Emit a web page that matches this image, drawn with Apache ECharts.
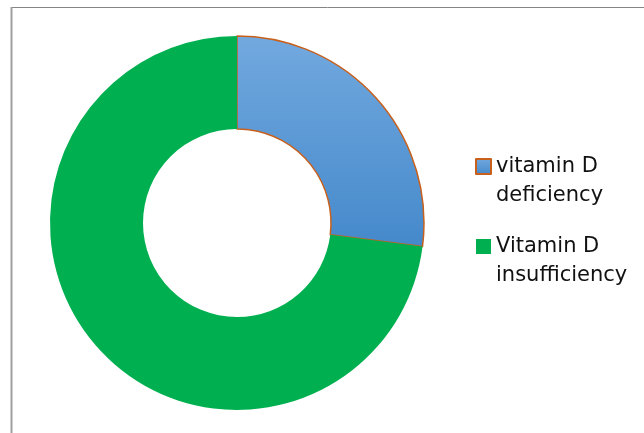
<!DOCTYPE html>
<html>
<head>
<meta charset="utf-8">
<script src="https://cdn.jsdelivr.net/npm/echarts@6/dist/echarts.min.js"></script>
<style>
  html, body { margin: 0; padding: 0; background: #fff; }
  #chart { width: 644px; height: 433px; }
</style>
</head>
<body>
<div id="chart"></div>
<script>
// Vitamin D status shares
const categories = ['vitamin D\ndeficiency', 'Vitamin D\ninsufficiency'];
const values = [27, 73];

const chart = echarts.init(document.getElementById('chart'));

const sliceStyles = [
  {
    color: {
      type: 'linear', x: 0, y: 0, x2: 0, y2: 1,
      colorStops: [
        { offset: 0, color: '#72a9df' },
        { offset: 1, color: '#4589cb' }
      ]
    },
    borderColor: '#c8601c',
    borderWidth: 1.5
  },
  { color: '#00b050', borderWidth: 0 }
];

// Legend labels are centred on their square; a leading blank line puts
// the first text line level with the square and the second one below it.
const LINE_H = 29;

chart.setOption({
  animation: false,
  backgroundColor: '#ffffff',
  graphic: [
    { type: 'line', shape: { x1: 11, y1: 7.5, x2: 644, y2: 7.5 }, style: { stroke: '#858585', lineWidth: 1 } },
    { type: 'line', shape: { x1: 11.5, y1: 7, x2: 11.5, y2: 433 }, style: { stroke: '#a0a0a0', lineWidth: 2 } }
  ],
  legend: {
    orient: 'vertical',
    left: 470,
    top: 118,
    itemWidth: 15,
    itemHeight: 15,
    itemGap: -7,
    icon: 'rect',
    formatter: name => '\n' + name,
    textStyle: {
      fontFamily: 'DejaVu Sans',
      fontSize: 21,
      lineHeight: LINE_H,
      color: '#111111'
    },
    data: categories
  },
  series: [{
    type: 'pie',
    center: [237, 223],
    radius: [94, 187],
    startAngle: 90,
    clockwise: true,
    label: { show: false },
    labelLine: { show: false },
    emphasis: { disabled: true },
    data: categories.map((name, i) => ({ name, value: values[i], itemStyle: sliceStyles[i] }))
  }]
});
</script>
</body>
</html>
